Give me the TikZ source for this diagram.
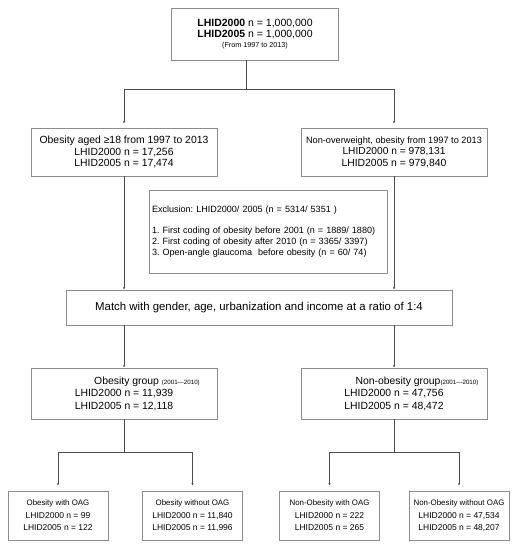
\documentclass[tikz,border=0pt]{standalone}
\usepackage{fontspec}
\setmainfont{Liberation Sans}
\usetikzlibrary{arrows.meta,positioning}
\tikzset{>/.tip={Latex[length=2.4pt,width=2.4pt]}}
\tikzset{box/.style={draw=black!45,line width=0.6pt,align=center,inner sep=0pt}}
\tikzset{link/.style={black!70,line width=0.5pt}}
\def\fs#1#2{\fontsize{#1}{#2}\selectfont}
\frenchspacing

\begin{document}
\begin{tikzpicture}[x=1pt,y=-1pt,on grid]
        \useasboundingbox (0,0) rectangle (517,550);
        \node(all)[box,minimum width=167pt,minimum height=52pt,font=\fs{10.5}{11}] at (255,34)
          {\textbf{LHID2000} n = 1,000,000\\\textbf{LHID2005} n = 1,000,000\\[-1.5pt]\fs{7.2}{11}(From 1997 to 2013)};
        \node(obese)[box,minimum width=186pt,minimum height=48pt,font=\fs{10.4}{11.6},below left=118pt and 131pt of all]
          {Obesity aged ≥18 from 1997 to 2013\\LHID2000 n = 17,256\\LHID2005 n = 17,474};
        \node(nonow)[box,minimum width=186pt,minimum height=48pt,font=\fs{10.4}{11.6},right=270pt of obese]
          {\fs{9.2}{11.6}Non-overweight, obesity from 1997 to 2013\\\fs{10.2}{11.6}LHID2000 n = 978,131\\LHID2005 n = 979,840};
        \node(excl)[box,minimum width=238pt,minimum height=83pt,text width=232pt,align=left,font=\fs{9.05}{11},below right=79.5pt and 144pt of obese]
          {Exclusion: LHID2000/ 2005 (n = 5314/ 5351 )\\[10pt]
           1.\ First coding of obesity before 2001 (n = 1889/ 1880)\\
           2.\ First coding of obesity after 2010 (n = 3365/ 3397)\\
           3.\ Open-angle glaucoma\ \ before obesity (n = 60/ 74)};
        \node(match)[box,minimum width=386pt,minimum height=35pt,font=\fs{11.4}{13},below right=155.5pt and 135pt of obese]
          {Match with gender, age, urbanization and income at a ratio of 1:4};
        \node(obgrp)[box,minimum width=186pt,minimum height=51pt,font=\fs{10.4}{12.6},below=241.5pt of obese]
          {\hspace*{46pt}Obesity group {\fs{6.2}{12.6}(2001—2010)}\\LHID2000 n = 11,939\\LHID2005 n = 12,118};
        \node(nongrp)[box,minimum width=186pt,minimum height=51pt,font=\fs{10.4}{12.6},right=270pt of obgrp]
          {\hspace*{46pt}Non-obesity group{\fs{6.2}{12.6}(2001—2010)}\\LHID2000 n = 47,756\\LHID2005 n = 48,472};
        \node(obwith)[box,minimum width=100pt,minimum height=49pt,font=\fs{8.5}{12},below left=122pt and 66pt of obgrp]
          {{\fs{7.9}{12}Obesity with OAG}\\[1pt]LHID2000 n = 99\\LHID2005 n = 122};
        \node(obwithout)[box,minimum width=100pt,minimum height=49pt,font=\fs{8.5}{12},below right=122pt and 68.5pt of obgrp]
          {{\fs{7.9}{12}Obesity without OAG}\\[1pt]LHID2000 n = 11,840\\LHID2005 n = 11,996};
        \node(nonwith)[box,minimum width=100pt,minimum height=49pt,font=\fs{8.5}{12},below left=122pt and 64.5pt of nongrp]
          {{\fs{7.9}{12}Non-Obesity with OAG}\\[1pt]LHID2000 n = 222\\LHID2005 n = 265};
        \node(nonwithout)[box,minimum width=100pt,minimum height=49pt,font=\fs{8.5}{12},below right=122pt and 65pt of nongrp]
          {{\fs{7.9}{12}Non-Obesity without OAG}\\[1pt]LHID2000 n = 47,534\\LHID2005 n = 48,207};
        \draw[link] ([xshift=-9pt]all.south) -- ++(0,29) coordinate(split);
        \draw[link,->,shorten >=4pt] (split) -| (obese);
        \draw[link,->,shorten >=4pt] (split) -| (nonow);
        \draw[link,->] (obese) -- (obese |- match.north);
        \draw[link,->] (nonow) -- (nonow |- match.north);
        \draw[link,->] (obgrp |- match.south) -- (obgrp);
        \draw[link,->] (nongrp |- match.south) -- (nongrp);
        \draw[link] (obgrp.south) -- ++(0,33) coordinate(obsplit);
        \draw[link] (nongrp.south) -- ++(0,33) coordinate(nonsplit);
        \draw[link,->,shorten >=5pt] (obsplit) -| (obwith);
        \draw[link,->,shorten >=5pt] (obsplit) -| (obwithout);
        \draw[link,->,shorten >=5pt] (nonsplit) -| (nonwith);
        \draw[link,->,shorten >=5pt] (nonsplit) -| (nonwithout);
      \end{tikzpicture}
\end{document}
